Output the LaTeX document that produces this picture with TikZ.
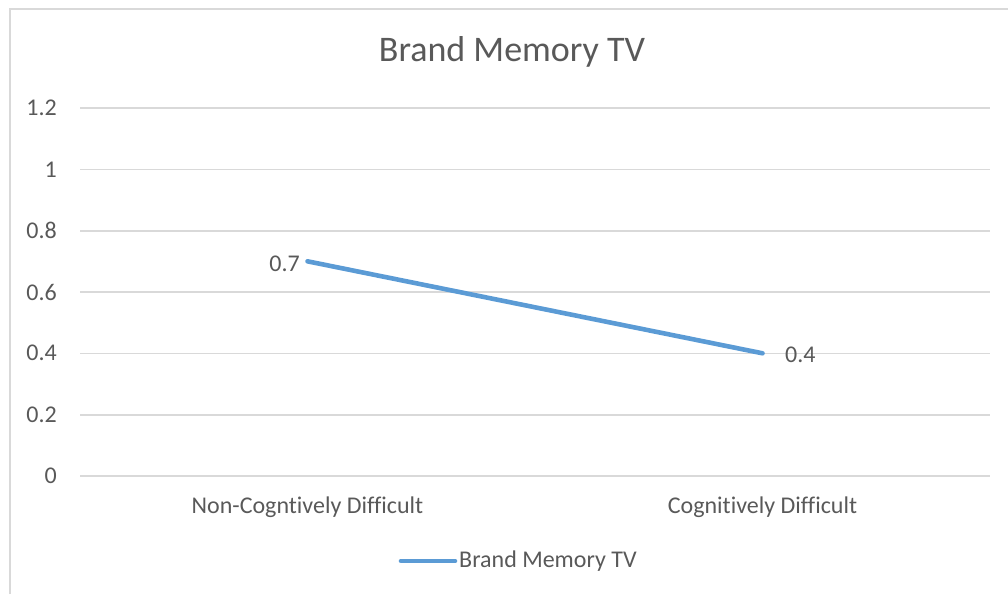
\documentclass[tikz,border=0pt]{standalone}
\usepackage{fontspec}
\setmainfont{Carlito}[Ligatures=NoCommon]
\usetikzlibrary{positioning}

\definecolor{txtgray}{HTML}{595959}
\definecolor{gridgray}{HTML}{D9D9D9}
\definecolor{seriesblue}{HTML}{5B9BD5}

\begin{document}
\begin{tikzpicture}[
x=1pt, y=-1pt,
    txt/.style={text=txtgray, font=\fontsize{24}{28}\selectfont, inner sep=0pt},
    ylab/.style={txt, anchor=east},
    grid/.style={draw=gridgray, line width=1.6pt},
    frame/.style={draw=gridgray, line width=1.4pt},
    series/.style={draw=seriesblue, line width=4.6pt, line cap=round}
]
\useasboundingbox (0,0) rectangle (1008,594);

\draw[frame] (10,594) -- (10,9) -- (1008,9);

\node[txt, font=\fontsize{36}{42}\selectfont] (title) at (512,52) {Brand Memory TV};

\foreach \v/\y in {0/476, 0.2/414.7, 0.4/353.3, 0.6/292, 0.8/230.7, 1/169.3, 1.2/108} {
  \draw[grid] (80,\y) -- (990,\y);
  \node[ylab] (ylab-\v) at (57,\y) {\v};
}

\node[txt] (cat1) at (307.5,507) {Non-Cogntively Difficult};
\node[txt] (cat2) at (762.5,507) {Cognitively Difficult};

\coordinate (p1) at (307.5,261.3);
\coordinate (p2) at (762.5,353.3);
\draw[series] (p1) -- (p2);
\node[txt, anchor=east] (lbl1) at (300,264) {0.7};
\node[txt, anchor=west] (lbl2) at (785,355) {0.4};

% legend
\coordinate (leg-a) at (401,561);
\coordinate (leg-b) at (455,561);
\draw[series] (leg-a) -- (leg-b);
\node[txt, anchor=west] (leg) at (459,561) {Brand Memory TV};
\end{tikzpicture}
\end{document}
